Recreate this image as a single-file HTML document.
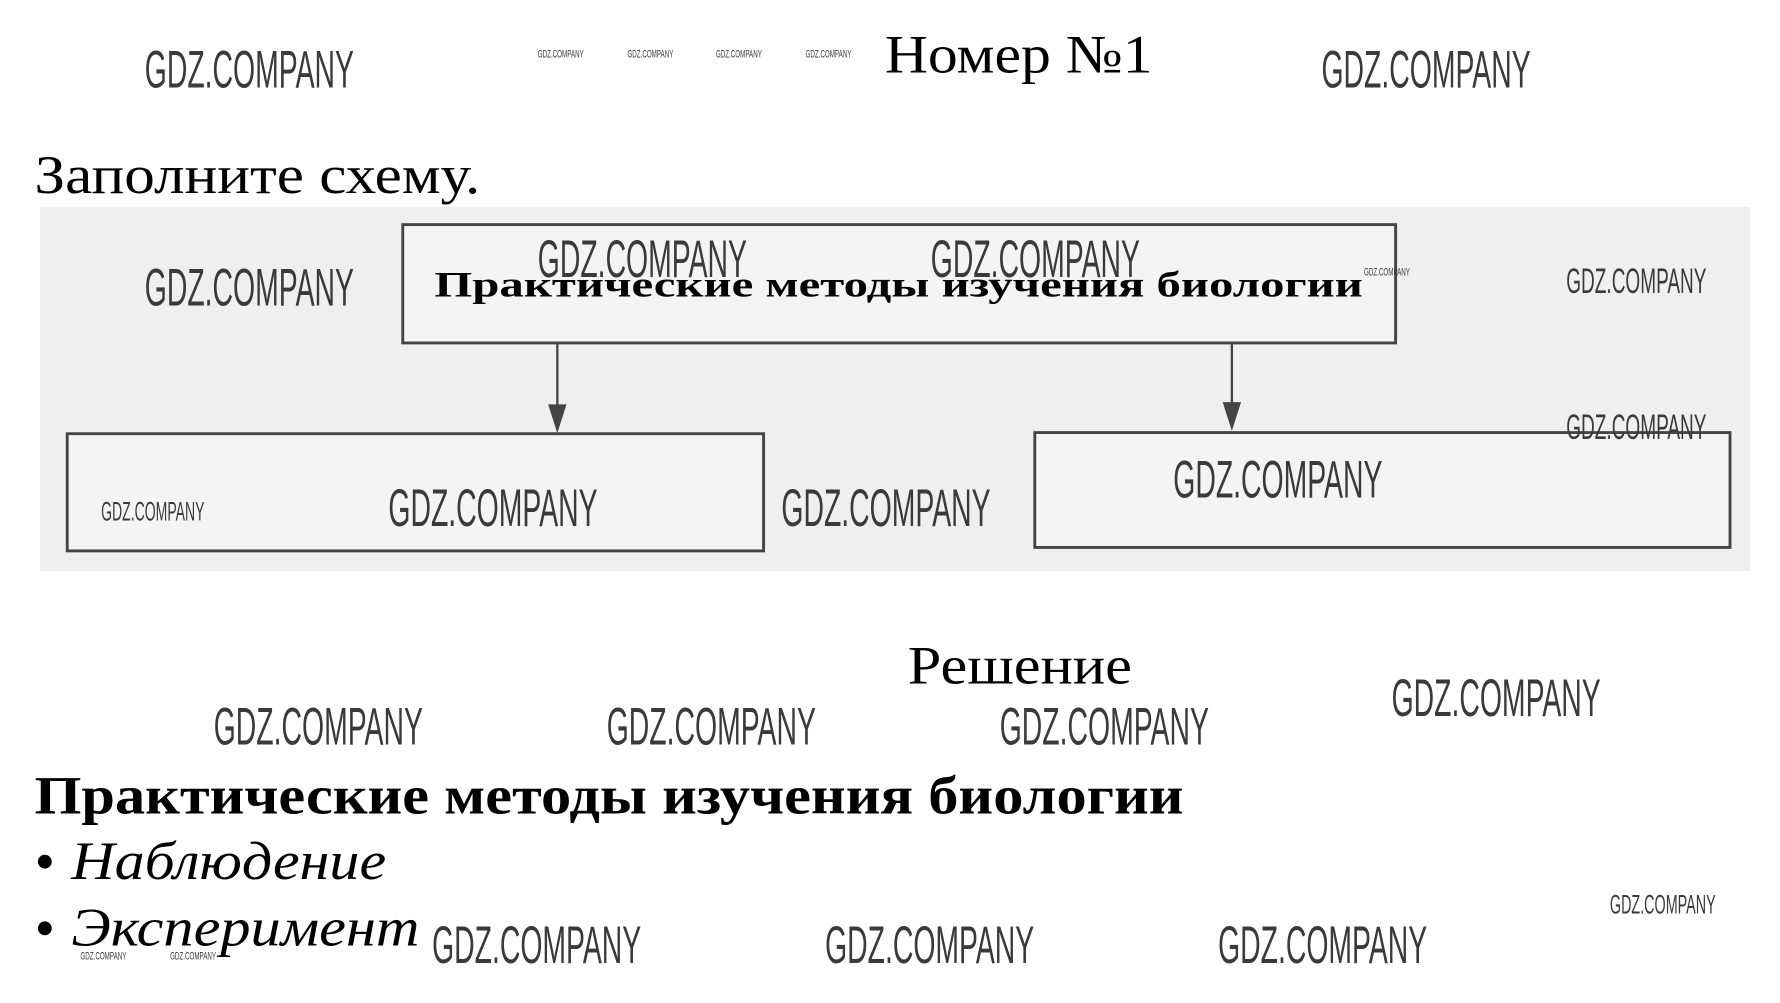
<!DOCTYPE html>
<html><head><meta charset="utf-8"><style>
html,body{margin:0;padding:0;background:#fff;overflow:hidden}
svg{display:block}
.w{font-family:"Liberation Sans",sans-serif;fill:#3a3a3a}
.s{font-family:"Liberation Serif","Noto Serif CJK SC",serif;fill:#000}
</style></head><body>
<svg width="1780" height="1003" viewBox="0 0 1549 873" preserveAspectRatio="none" xmlns="http://www.w3.org/2000/svg">
<rect x="0" y="0" width="1549" height="873" fill="#fff"/>
<rect x="35" y="180" width="1488" height="317" fill="#efefef"/>
<text class="s" x="770" y="63" font-size="47" textLength="233" lengthAdjust="spacingAndGlyphs">Номер №1</text>
<text class="s" x="30" y="168" font-size="47" textLength="388" lengthAdjust="spacingAndGlyphs">Заполните схему.</text>
<rect x="350.5" y="195.5" width="864" height="103" fill="#f4f4f4" stroke="#444" stroke-width="2.5"/>
<text class="s" x="378" y="258" font-size="31" font-weight="bold" fill="#333" textLength="808" lengthAdjust="spacingAndGlyphs">Практические методы изучения биологии</text>
<line x1="485" y1="298" x2="485" y2="362" stroke="#444" stroke-width="2"/>
<polygon points="477,352 493,352 485,377" fill="#444"/>
<line x1="1072" y1="298" x2="1072" y2="360" stroke="#444" stroke-width="2"/>
<polygon points="1064,350 1080,350 1072,375" fill="#444"/>
<rect x="58.5" y="377.5" width="606" height="102" fill="#f4f4f4" stroke="#444" stroke-width="2.5"/>
<rect x="900.5" y="376.5" width="605" height="100" fill="#f4f4f4" stroke="#444" stroke-width="2.5"/>
<text class="s" x="790" y="595" font-size="47" textLength="195" lengthAdjust="spacingAndGlyphs">Решение</text>
<text class="s" x="30" y="708" font-size="47" font-weight="bold" textLength="1000" lengthAdjust="spacingAndGlyphs">Практические методы изучения биологии</text>
<circle cx="39" cy="750" r="6" fill="#000"/>
<text class="s" x="62" y="765" font-size="47" font-style="italic" textLength="274" lengthAdjust="spacingAndGlyphs">Наблюдение</text>
<circle cx="39" cy="808" r="6" fill="#000"/>
<text class="s" x="62" y="823" font-size="47" font-style="italic" textLength="303" lengthAdjust="spacingAndGlyphs">Эксперимент</text>
<g class="w" font-size="46">
<text x="126" y="76" textLength="182" lengthAdjust="spacingAndGlyphs">GDZ.COMPANY</text>
<text x="1150" y="76" textLength="182" lengthAdjust="spacingAndGlyphs">GDZ.COMPANY</text>
<text x="126" y="266" textLength="182" lengthAdjust="spacingAndGlyphs">GDZ.COMPANY</text>
<text x="468" y="241" textLength="182" lengthAdjust="spacingAndGlyphs">GDZ.COMPANY</text>
<text x="810" y="241" textLength="182" lengthAdjust="spacingAndGlyphs">GDZ.COMPANY</text>
<text x="338" y="458" textLength="182" lengthAdjust="spacingAndGlyphs">GDZ.COMPANY</text>
<text x="680" y="458" textLength="182" lengthAdjust="spacingAndGlyphs">GDZ.COMPANY</text>
<text x="1021" y="433" textLength="182" lengthAdjust="spacingAndGlyphs">GDZ.COMPANY</text>
<text x="186" y="648" textLength="182" lengthAdjust="spacingAndGlyphs">GDZ.COMPANY</text>
<text x="528" y="648" textLength="182" lengthAdjust="spacingAndGlyphs">GDZ.COMPANY</text>
<text x="870" y="648" textLength="182" lengthAdjust="spacingAndGlyphs">GDZ.COMPANY</text>
<text x="1211" y="623" textLength="182" lengthAdjust="spacingAndGlyphs">GDZ.COMPANY</text>
<text x="376" y="838" textLength="182" lengthAdjust="spacingAndGlyphs">GDZ.COMPANY</text>
<text x="718" y="838" textLength="182" lengthAdjust="spacingAndGlyphs">GDZ.COMPANY</text>
<text x="1060" y="838" textLength="182" lengthAdjust="spacingAndGlyphs">GDZ.COMPANY</text>
</g>
<g class="w" font-size="31">
<text x="1363" y="255" textLength="122" lengthAdjust="spacingAndGlyphs">GDZ.COMPANY</text>
<text x="1363" y="382" textLength="122" lengthAdjust="spacingAndGlyphs">GDZ.COMPANY</text>
</g>
<g class="w" font-size="23">
<text x="88" y="453" textLength="90" lengthAdjust="spacingAndGlyphs">GDZ.COMPANY</text>
<text x="1401" y="795" textLength="92" lengthAdjust="spacingAndGlyphs">GDZ.COMPANY</text>
</g>
<g class="w" font-size="10">
<text x="468" y="50" textLength="40" lengthAdjust="spacingAndGlyphs">GDZ.COMPANY</text>
<text x="546" y="50" textLength="40" lengthAdjust="spacingAndGlyphs">GDZ.COMPANY</text>
<text x="623" y="50" textLength="40" lengthAdjust="spacingAndGlyphs">GDZ.COMPANY</text>
<text x="701" y="50" textLength="40" lengthAdjust="spacingAndGlyphs">GDZ.COMPANY</text>
<text x="1187" y="240" textLength="40" lengthAdjust="spacingAndGlyphs">GDZ.COMPANY</text>
<text x="70" y="835" textLength="40" lengthAdjust="spacingAndGlyphs">GDZ.COMPANY</text>
<text x="148" y="835" textLength="40" lengthAdjust="spacingAndGlyphs">GDZ.COMPANY</text>
</g>
</svg>
</body></html>
